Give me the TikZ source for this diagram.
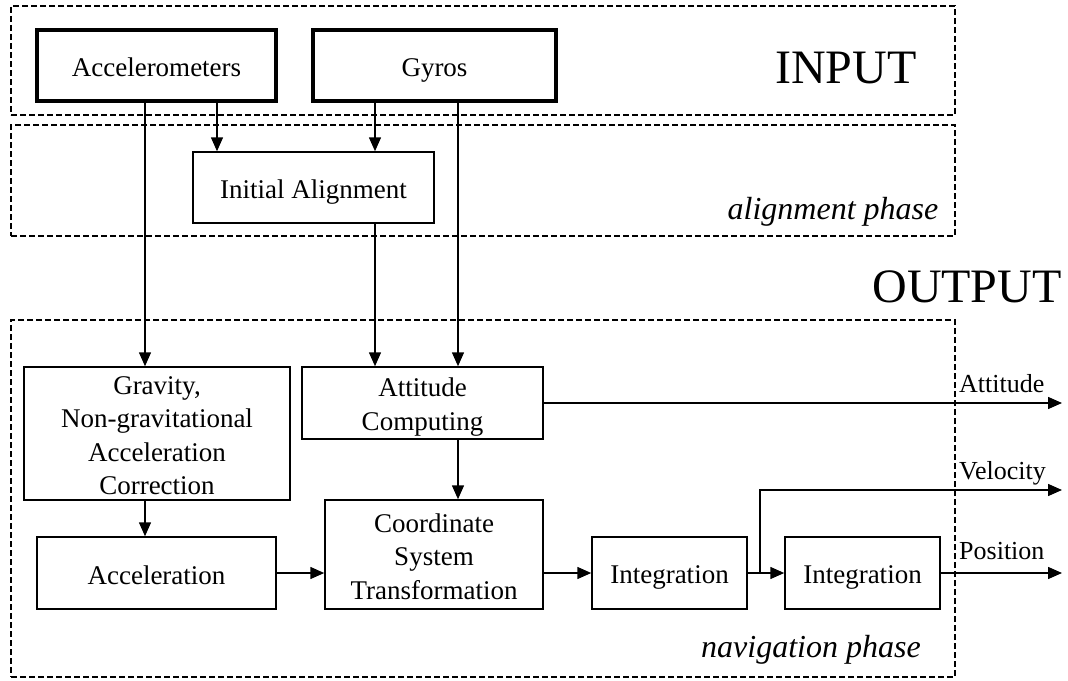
\documentclass[tikz,border=0pt]{standalone}
\usepackage{fontspec}
\setmainfont{Liberation Serif}
\usetikzlibrary{arrows.meta}
\newcommand\boxstrut{\rule[-5pt]{0pt}{32pt}}
\begin{document}
\begin{tikzpicture}[x=1pt,y=-1pt,
  blk/.style={draw, line width=1.5pt, align=center, inner sep=0pt,
    font=\fontsize{27}{33.5}\selectfont},
  inbox/.style={blk, line width=4pt},
  phasebox/.style={draw, dashed, dash pattern=on 6pt off 3pt, line width=1.2pt, inner sep=0pt},
  arr/.style={line width=1.5pt, -{Triangle[length=14pt,width=12pt]}},
  outlbl/.style={anchor=base west, inner sep=0pt, font=\fontsize{26}{28}\selectfont},
  biglbl/.style={font=\fontsize{48}{50}\selectfont},
  phaselbl/.style={font=\itshape\fontsize{32}{34}\selectfont}]
\useasboundingbox (0,0) rectangle (1068,680);
% phase frames
\node[phasebox, minimum width=944pt, minimum height=109pt] (pin) at (483,60.5) {};
\node[phasebox, minimum width=944pt, minimum height=111pt] (pal) at (483,180.5) {};
\node[phasebox, minimum width=944pt, minimum height=357pt] (pnav) at (483,498.5) {};
\node[biglbl] (tin) at (846,68) {INPUT};
\node[phaselbl] (tal) at (833,212) {alignment phase};
\node[biglbl] (tout) at (967,287) {OUTPUT};
\node[phaselbl] (tnav) at (811,650) {navigation phase};
% blocks
\node[inbox, minimum width=239pt, minimum height=71pt] (acc) at (156.5,65.5) {\boxstrut Accelerometers};
\node[inbox, minimum width=243pt, minimum height=71pt] (gyr) at (434.5,65.5) {\boxstrut Gyros};
\node[blk, minimum width=241pt, minimum height=71pt] (ia) at (313.5,187.5) {\boxstrut Initial Alignment};
\node[blk, minimum width=266pt, minimum height=133pt] (grav) at (157,433.5) {\boxstrut Gravity,\\\boxstrut Non-gravitational\\\boxstrut Acceleration\\\boxstrut Correction};
\node[blk, minimum width=241pt, minimum height=72pt] (att) at (422.5,403) {\boxstrut Attitude\\\boxstrut Computing};
\node[blk, minimum width=239pt, minimum height=72pt] (accel) at (156.5,573) {\boxstrut Acceleration};
\node[blk, minimum width=218pt, minimum height=109pt] (cst) at (434,554.5) {\boxstrut Coordinate\\\boxstrut System\\\boxstrut Transformation};
\node[blk, minimum width=155pt, minimum height=72pt] (int1) at (669.5,573) {\boxstrut Integration};
\node[blk, minimum width=155pt, minimum height=72pt] (int2) at (862.5,573) {\boxstrut Integration};
% helper coordinates
\coordinate (xa) at (145,0);
\coordinate (xb) at (217,0);
\coordinate (xc) at (375,0);
\coordinate (xd) at (458,0);
\coordinate (xbr) at (760,0);
\coordinate (xout) at (1062,0);
\coordinate (vend) at (1062,490);
% connectors
\draw[arr] (acc.south -| xa) -- (grav.north -| xa);
\draw[arr] (acc.south -| xb) -- (ia.north -| xb);
\draw[arr] (gyr.south -| xc) -- (ia.north -| xc);
\draw[arr] (gyr.south -| xd) -- (att.north -| xd);
\draw[arr] (ia.south -| xc) -- (att.north -| xc);
\draw[arr] (grav.south -| xa) -- (accel.north -| xa);
\draw[arr] (att.south -| xd) -- (cst.north -| xd);
\draw[arr] (accel.east) -- (cst.west |- accel.east);
\draw[arr] (cst.east |- int1.west) -- (int1.west);
\draw[arr] (int1.east) -- (int2.west);
\draw[arr] (int1.east -| xbr) |- (vend);
\draw[arr] (int2.east) -- (int2.east -| xout);
\draw[arr] (att.east) -- (att.east -| xout);
% output labels
\node[outlbl] (lat) at (959,392) {Attitude};
\node[outlbl] (lve) at (959,479) {Velocity};
\node[outlbl] (lpo) at (959,559) {Position};
\end{tikzpicture}
\end{document}
